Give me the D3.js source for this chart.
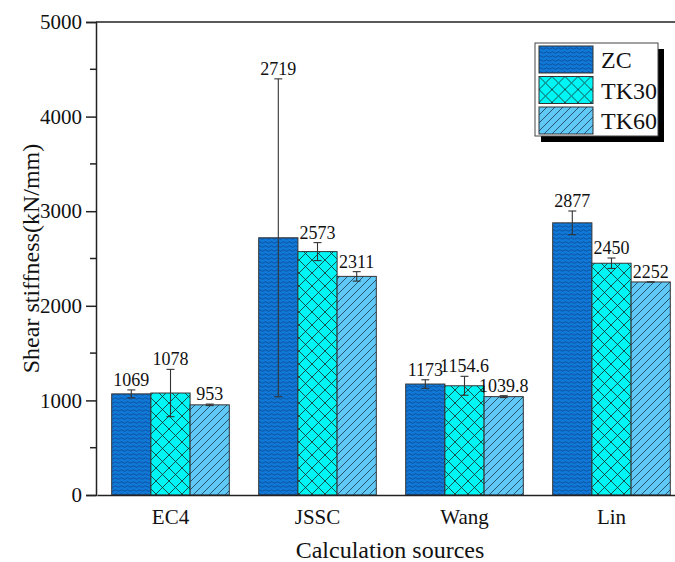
<!DOCTYPE html>
<html>
<head>
<meta charset="utf-8">
<script src="https://cdn.jsdelivr.net/npm/d3@7"></script>
<style>
  body { margin: 0; background: #fff; }
  svg text { fill: #111; }
</style>
</head>
<body>
<script>
const width  = 675;
const height = 562;
const serif  = 'Liberation Serif, DejaVu Serif, serif';

const categories = ['EC4', 'JSSC', 'Wang', 'Lin'];
const seriesNames = ['ZC', 'TK30', 'TK60'];
const zcValues   = [1069, 2719, 1173, 2877];
const tk30Values = [1078, 2573, 1154.6, 2450];
const tk60Values = [953, 2311, 1039.8, 2252];
const zcErr   = [42, 1680, 45, 125];
const tk30Err = [250, 95, 100, 55];
const tk60Err = [8, 50, 10, 0];
const yTicks  = [0, 1000, 2000, 3000, 4000, 5000];

const values = [zcValues, tk30Values, tk60Values];
const errs   = [zcErr, tk30Err, tk60Err];

const rows = [];
seriesNames.forEach((s, i) => {
  categories.forEach((c, j) => {
    rows.push({series: s, cat: c, value: values[i][j], err: errs[i][j]});
  });
});

const svg = d3.select('body').append('svg')
  .attr('width', width)
  .attr('height', height)
  .style('font-family', serif);

const defs = svg.append('defs');

// ZC: blue with wavy lines
const wave = defs.append('pattern').attr('id', 'p-zc')
  .attr('patternUnits', 'userSpaceOnUse').attr('width', 6).attr('height', 4);
wave.append('rect').attr('width', 6).attr('height', 4).attr('fill', '#1078d6');
wave.append('path').attr('d', 'M0,2.5 Q1.5,1 3,2.5 T6,2.5')
  .attr('fill', 'none').attr('stroke', '#0c3d86').attr('stroke-width', 0.7);

// TK30: cyan crosshatch
const cross = defs.append('pattern').attr('id', 'p-tk30')
  .attr('patternUnits', 'userSpaceOnUse').attr('width', 13).attr('height', 13);
cross.append('rect').attr('width', 13).attr('height', 13).attr('fill', '#00f5f5');
cross.append('path').attr('d', 'M0,0 L13,13 M0,13 L13,0')
  .attr('stroke', '#1a2a2a').attr('stroke-width', 0.8);

// TK60: light blue with diagonals
const diag = defs.append('pattern').attr('id', 'p-tk60')
  .attr('patternUnits', 'userSpaceOnUse').attr('width', 8).attr('height', 8);
diag.append('rect').attr('width', 8).attr('height', 8).attr('fill', '#5fc8f5');
diag.append('path').attr('d', 'M0,8 L8,0 M-2,2 L2,-2 M6,10 L10,6')
  .attr('stroke', '#1c3550').attr('stroke-width', 0.8);

const fills = {ZC: 'url(#p-zc)', TK30: 'url(#p-tk30)', TK60: 'url(#p-tk60)'};

const x0 = d3.scaleBand().domain(categories).range([97, 685])
  .paddingInner(0.2).paddingOuter(0.1);
const x1 = d3.scaleBand().domain(seriesNames).range([0, x0.bandwidth()]);
const y  = d3.scaleLinear().domain([0, 5000]).range([495, 22]);

// bars
svg.append('g').selectAll('rect')
  .data(rows).enter().append('rect')
  .attr('x', d => x0(d.cat) + x1(d.series))
  .attr('y', d => y(d.value))
  .attr('width', x1.bandwidth())
  .attr('height', d => y(0) - y(d.value))
  .attr('fill', d => fills[d.series])
  .attr('stroke', '#333')
  .attr('stroke-width', 1);

// error bars
const eb = svg.append('g').attr('stroke', '#333').attr('stroke-width', 1.1);
rows.forEach(d => {
  const cx = x0(d.cat) + x1(d.series) + x1.bandwidth() / 2;
  const t = y(d.value + d.err), b = y(d.value - d.err);
  eb.append('line').attr('x1', cx).attr('x2', cx).attr('y1', t).attr('y2', b);
  eb.append('line').attr('x1', cx - 4).attr('x2', cx + 4).attr('y1', t).attr('y2', t);
  eb.append('line').attr('x1', cx - 4).attr('x2', cx + 4).attr('y1', b).attr('y2', b);
});

// value labels
svg.append('g').selectAll('text')
  .data(rows).enter().append('text')
  .attr('x', d => x0(d.cat) + x1(d.series) + x1.bandwidth() / 2)
  .attr('y', d => y(d.value + d.err) - 4)
  .attr('text-anchor', 'middle')
  .style('font-family', serif)
  .style('font-size', '18px')
  .text(d => String(d.value));

// axes
const yAxis = d3.axisLeft(y).tickValues(yTicks).tickSize(10).tickPadding(4)
  .tickFormat(d3.format('d'));
const gy = svg.append('g').attr('transform', 'translate(96,0)').call(yAxis);
gy.select('.domain').attr('stroke', '#222').attr('stroke-width', 1.5);
gy.selectAll('.tick line').attr('stroke', '#222').attr('stroke-width', 1.5);
gy.selectAll('.tick text').attr('fill', '#111')
  .style('font-family', serif).style('font-size', '21px');

const minor = d3.range(500, 5000, 1000);
gy.selectAll('.minor').data(minor).enter().append('line')
  .attr('x1', -6).attr('x2', 0)
  .attr('y1', d => y(d)).attr('y2', d => y(d))
  .attr('stroke', '#222').attr('stroke-width', 1.5);

const xAxis = d3.axisBottom(x0).tickSize(0).tickPadding(14);
const gx = svg.append('g').attr('transform', 'translate(0,495)').call(xAxis);
gx.select('.domain').attr('stroke', '#222').attr('stroke-width', 1.5);
gx.selectAll('.tick text').attr('fill', '#111')
  .style('font-family', serif).style('font-size', '21px');

// top frame line
svg.append('line').attr('x1', 96).attr('x2', 685).attr('y1', y(5000)).attr('y2', y(5000))
  .attr('stroke', '#222').attr('stroke-width', 1.5);

// axis titles
svg.append('text')
  .attr('transform', 'translate(39,' + y(2500) + ') rotate(-90)')
  .attr('text-anchor', 'middle')
  .style('font-family', serif)
  .style('font-size', '24px')
  .text('Shear stiffness(kN/mm)');

svg.append('text')
  .attr('x', 390).attr('y', 558)
  .attr('text-anchor', 'middle')
  .style('font-family', serif)
  .style('font-size', '24px')
  .text('Calculation sources');

// legend
const lg = svg.append('g').attr('transform', 'translate(535,43)');
lg.append('rect').attr('x', 6).attr('y', 6).attr('width', 123).attr('height', 93).attr('fill', '#000');
lg.append('rect').attr('width', 123).attr('height', 93)
  .attr('fill', '#fff').attr('stroke', '#444').attr('stroke-width', 1);
seriesNames.forEach((s, i) => {
  const row = lg.append('g').attr('transform', 'translate(4,' + (3 + i * 30.5) + ')');
  row.append('rect').attr('width', 54).attr('height', 27)
    .attr('fill', fills[s]).attr('stroke', '#333').attr('stroke-width', 1);
  row.append('text').attr('x', 62).attr('y', 22)
    .style('font-family', serif).style('font-size', '24px').text(s);
});
</script>
</body>
</html>
